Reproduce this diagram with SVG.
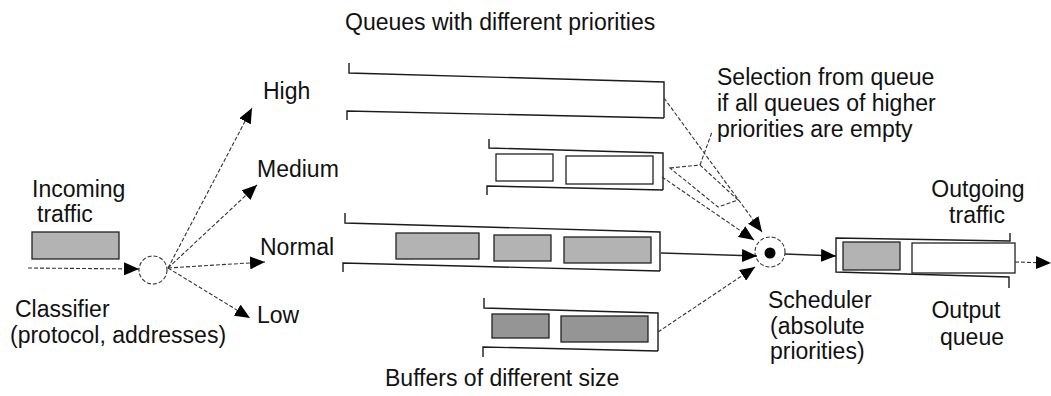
<svg xmlns="http://www.w3.org/2000/svg" width="1051" height="396" viewBox="0 0 1051 396">
<style>
text{font-family:"Liberation Sans",Arial,sans-serif;font-size:23px;fill:#111}
.q{fill:none;stroke:#1a1a1a;stroke-width:1.4}
.box{fill:#fff;stroke:#222;stroke-width:1.3}
.sh{fill:#b3b3b3;stroke:#222;stroke-width:1.3}
.shd{fill:#959595;stroke:#222;stroke-width:1.3}
.c{fill:none;stroke:#333;stroke-width:1.1;stroke-dasharray:4 2}
.s{fill:none;stroke:#222;stroke-width:1.3}
</style>
<defs>
<marker id="ah" markerUnits="userSpaceOnUse" markerWidth="15" markerHeight="13" refX="15" refY="6.5" orient="auto">
<path d="M0,0 L15,6.5 L0,13 z" fill="#000"/>
</marker>
</defs>
<rect width="1051" height="396" fill="#fff"/>

<g id="title">
<text x="345" y="30">Queues with different priorities</text>
</g>

<g id="incoming">
<text x="32" y="197">Incoming</text>
<text x="37" y="222">traffic</text>
<rect class="sh" x="32" y="232" width="87" height="27"/>
</g>

<g id="classifier">
<circle class="c" cx="153" cy="270" r="14"/>
<text x="15" y="317">Classifier</text>
<text x="10" y="343">(protocol, addresses)</text>
</g>

<g id="label-high"><text x="263" y="99">High</text></g>
<g id="label-medium"><text x="257" y="177">Medium</text></g>
<g id="label-normal"><text x="260" y="255">Normal</text></g>
<g id="label-low"><text x="257" y="323">Low</text></g>

<g id="queue-high">
<polyline class="q" points="349,63 349,73 664,82 664,118"/>
<polyline class="q" points="347,120 347,111 664,118"/>
</g>

<g id="queue-medium">
<polyline class="q" points="489,139 489,148 663,153 663,190"/>
<polyline class="q" points="487,195 487,186 663,190"/>
<rect class="box" x="496" y="154" width="57" height="27"/>
<rect class="box" x="566" y="156" width="87" height="28"/>
</g>

<g id="queue-normal">
<polyline class="q" points="345,213 345,223 660,232 660,271"/>
<polyline class="q" points="343,272 343,263 660,271"/>
<rect class="sh" x="396" y="233" width="83" height="26"/>
<rect class="sh" x="494" y="235" width="57" height="26"/>
<rect class="sh" x="564" y="237" width="87" height="26"/>
</g>

<g id="queue-low">
<polyline class="q" points="484,298 484,308 658,313 658,351"/>
<polyline class="q" points="483,357 483,347 658,351"/>
<rect class="shd" x="492" y="314" width="57" height="24"/>
<rect class="shd" x="561" y="316" width="87" height="26"/>
</g>

<g id="buffers-label">
<text x="385" y="386">Buffers of different size</text>
</g>

<g id="selection-note">
<text x="717" y="85">Selection from queue</text>
<text x="717" y="111">if all queues of higher</text>
<text x="717" y="137">priorities are empty</text>
<polygon class="c" points="670,168 700,165 738,200 718,207"/>
<line class="c" x1="700" y1="165" x2="712" y2="132"/>
</g>

<g id="scheduler">
<circle class="c" cx="770" cy="252" r="15"/>
<circle cx="770" cy="253" r="5.5" fill="#000"/>
<text x="768" y="308">Scheduler</text>
<text x="770" y="334">(absolute</text>
<text x="770" y="359">priorities)</text>
</g>

<g id="output-queue">
<text x="978" y="197" text-anchor="middle">Outgoing</text>
<text x="977" y="223" text-anchor="middle">traffic</text>
<polyline class="q" points="1010,233 1010,241 836,238 836,272 1009,277 1009,288"/>
<rect class="sh" x="843" y="242" width="57" height="28"/>
<rect class="box" x="912" y="243" width="103" height="30"/>
<text x="966" y="318" text-anchor="middle">Output</text>
<text x="972" y="345" text-anchor="middle">queue</text>
</g>

<g id="connectors">
<line class="c" x1="28" y1="268" x2="139" y2="269" marker-end="url(#ah)"/>
<line class="c" x1="168" y1="268" x2="252" y2="108" marker-end="url(#ah)"/>
<line class="c" x1="168" y1="268" x2="257" y2="185" marker-end="url(#ah)"/>
<line class="c" x1="168" y1="268" x2="265" y2="262" marker-end="url(#ah)"/>
<line class="c" x1="168" y1="268" x2="250" y2="318" marker-end="url(#ah)"/>
<line class="c" x1="664" y1="98" x2="762" y2="232" marker-end="url(#ah)"/>
<line class="c" x1="662" y1="177" x2="754" y2="240" marker-end="url(#ah)"/>
<line class="s" x1="661" y1="253" x2="757" y2="256" marker-end="url(#ah)"/>
<line class="c" x1="658" y1="332" x2="755" y2="267" marker-end="url(#ah)"/>
<line class="s" x1="785" y1="254" x2="836" y2="256" marker-end="url(#ah)"/>
<line class="c" x1="1015" y1="262" x2="1051" y2="263" marker-end="url(#ah)"/>
</g>
</svg>
